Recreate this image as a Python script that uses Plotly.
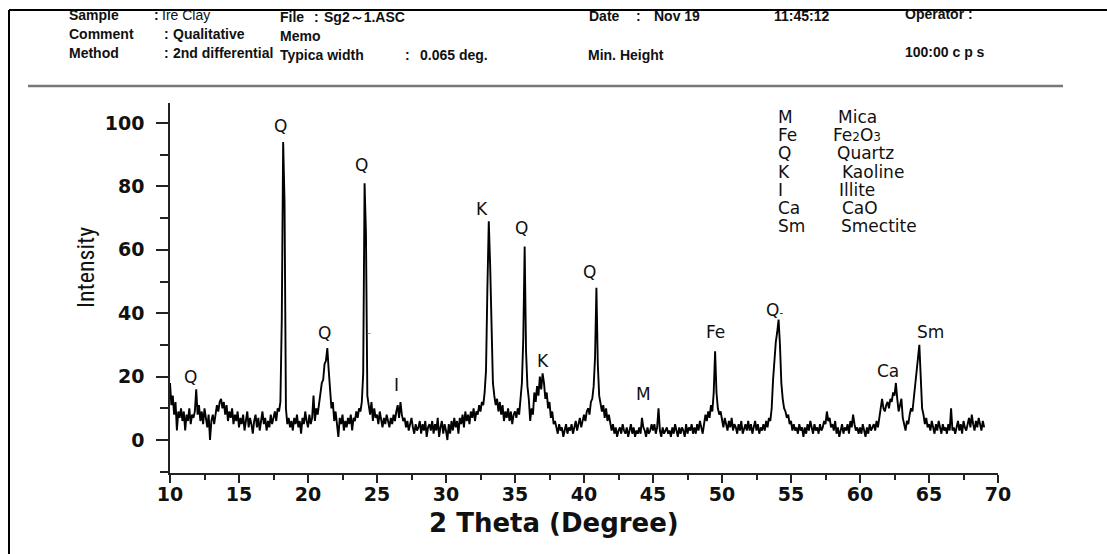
import numpy as np
import plotly.graph_objects as go

# ---------------- data ----------------
theta_start = 10.0
theta_step = 0.1
intensity = [
    18, 11, 14, 8, 12, 3, 9, 7, 10, 6,      # 10
    9, 3, 8, 6, 10, 5, 8, 7, 9, 16,         # 11
    8, 11, 6, 9, 5, 10, 7, 4, 8, 0,         # 12
    6, 8, 5, 9, 11, 9, 12, 13, 10, 12,      # 13
    8, 11, 6, 9, 7, 10, 5, 8, 6, 9,         # 14
    4, 7, 5, 8, 3, 6, 9, 4, 7, 5,           # 15
    2, 6, 8, 4, 7, 3, 6, 9, 5, 7,           # 16
    3, 6, 4, 8, 5, 7, 9, 6, 10, 9,          # 17
    12, 38, 94, 75, 10, 5, 7, 4, 6, 3,      # 18
    7, 5, 8, 4, 6, 2, 7, 5, 9, 6,           # 19
    4, 8, 5, 7, 14, 6, 10, 8, 12, 15,       # 20
    18, 19, 24, 25, 29, 22, 15, 10, 12, 6,  # 21
    9, 4, 1, 7, 5, 8, 3, 6, 4, 7,           # 22
    5, 8, 3, 7, 6, 9, 7, 10, 9, 12,         # 23
    21, 81, 65, 14, 11, 8, 12, 6, 10, 7,    # 24
    8, 5, 9, 6, 4, 7, 5, 8, 6, 4,           # 25
    7, 5, 8, 6, 9, 11, 7, 12, 8, 6,         # 26
    7, 4, 6, 3, 5, 7, 4, 2, 5, 3,           # 27
    4, 6, 2, 5, 3, 6, 1, 4, 5, 3,           # 28
    6, 2, 5, 3, 7, 1, 4, 6, 2, 5,           # 29
    3, 0, 5, 2, 6, 3, 7, 4, 6, 2,           # 30
    7, 5, 8, 4, 9, 6, 8, 5, 9, 7,           # 31
    10, 6, 9, 8, 11, 9, 12, 11, 15, 22,     # 32
    48, 69, 55, 30, 18, 14, 11, 13, 9, 12,  # 33
    8, 11, 6, 9, 7, 10, 6, 9, 5, 8,         # 34
    9, 7, 10, 8, 12, 18, 32, 61, 28, 17,    # 35
    13, 6, 10, 8, 15, 12, 17, 14, 20, 16,   # 36
    21, 18, 13, 15, 10, 12, 7, 9, 5, 6,     # 37
    4, 2, 5, 3, 4, 1, 3, 5, 2, 4,           # 38
    3, 5, 2, 4, 6, 3, 5, 7, 4, 6,           # 39
    8, 6, 9, 10, 8, 12, 13, 17, 26, 48,     # 40
    24, 14, 12, 9, 11, 7, 10, 6, 8, 5,      # 41
    3, 5, 2, 4, 1, 3, 4, 2, 5, 3,           # 42
    2, 4, 1, 3, 5, 2, 4, 1, 3, 2,           # 43
    4, 2, 7, 4, 3, 1, 4, 2, 3, 5,           # 44
    3, 5, 2, 4, 10, 3, 1, 4, 2, 3,          # 45
    4, 2, 3, 1, 4, 2, 5, 3, 1, 4,           # 46
    2, 4, 3, 1, 5, 2, 4, 3, 5, 2,           # 47
    4, 2, 5, 3, 6, 4, 2, 5, 8, 6,           # 48
    9, 7, 11, 9, 15, 28, 15, 10, 8, 9,      # 49
    6, 4, 7, 5, 3, 6, 4, 7, 3, 5,           # 50
    4, 2, 5, 3, 6, 2, 4, 5, 3, 6,           # 51
    3, 5, 2, 4, 6, 3, 5, 2, 4, 3,           # 52
    5, 3, 6, 4, 7, 6, 10, 19, 26, 31,       # 53
    34, 38, 30, 18, 13, 10, 9, 7, 8, 5,     # 54
    6, 3, 5, 3, 4, 2, 5, 3, 4, 1,           # 55
    4, 2, 5, 3, 6, 4, 2, 5, 3, 4,           # 56
    2, 5, 3, 4, 6, 5, 9, 6, 7, 4,           # 57
    5, 3, 6, 2, 4, 1, 3, 5, 2, 4,           # 58
    3, 5, 2, 6, 4, 8, 5, 3, 4, 2,           # 59
    4, 2, 5, 3, 1, 4, 2, 5, 3, 4,           # 60
    5, 3, 6, 4, 7, 9, 13, 10, 9, 11,        # 61
    12, 10, 13, 12, 15, 14, 18, 13, 9, 11,  # 62
    13, 7, 5, 3, 6, 5, 8, 10, 9, 13,        # 63
    18, 21, 26, 30, 20, 10, 8, 5, 7, 4,     # 64
    5, 3, 6, 4, 2, 5, 3, 6, 4, 2,           # 65
    5, 3, 4, 2, 5, 3, 10, 3, 4, 2,          # 66
    4, 6, 3, 5, 2, 6, 4, 3, 5, 7,           # 67
    4, 8, 5, 3, 6, 4, 7, 5, 3, 6,           # 68
    4,                                      # 69
]
two_theta = np.round(theta_start + theta_step * np.arange(len(intensity)), 2)

peak_labels = ["Q", "Q", "Q", "Q", "I", "K", "Q", "K", "Q", "M", "Fe",
               "Q<span style='font-size:10px'>-</span>", "Ca", "Sm"]
peak_x = [11.5, 18.0, 21.2, 23.9, 26.4, 32.6, 35.5, 37.0, 40.4, 44.3, 49.5, 53.8, 62.0, 65.1]
peak_y = [19.9, 99.0, 33.8, 86.8, 17.4, 73.0, 67.0, 25.0, 53.0, 14.5, 34.0, 41.0, 21.8, 34.0]

phase_codes = ["M", "Fe", "Q", "K", "I", "Ca", "Sm"]
phase_names = ["Mica", "Fe<span style='font-size:12px'>2</span>O<span style='font-size:12px'>3</span>",
               "Quartz", "Kaoline", "Illite", "CaO", "Smectite"]

x_ticks = [10, 15, 20, 25, 30, 35, 40, 45, 50, 55, 60, 65, 70]
y_ticks = [0, 20, 40, 60, 80, 100]

# ---------------- layout geometry (window pixels) ----------------
WIN_W, WIN_H = 1107, 554
L, R, T, B = 170, 998, 103, 473
PW, PH = R - L, B - T


def px(x):
    return (x - L) / PW


def py(y):
    return (B - y) / PH


FONT = "DejaVu Sans, Liberation Sans, Arial, sans-serif"
HFONT = "Liberation Sans, Arial, sans-serif"

fig = go.Figure()
fig.add_trace(go.Scatter(
    x=two_theta, y=intensity, mode="lines",
    line=dict(color="black", width=1.9), showlegend=False, hoverinfo="skip",
))

annotations = []
for t, xx, yy in zip(peak_labels, peak_x, peak_y):
    annotations.append(dict(x=xx, y=yy, xref="x", yref="y", text=t, showarrow=False,
                            font=dict(family=FONT, size=17, color="#111"),
                            xanchor="center", yanchor="middle"))
annotations.append(dict(x=24.4, y=34.0, xref="x", yref="y", text="-", showarrow=False,
                        font=dict(family=FONT, size=11, color="#888"),
                        xanchor="center", yanchor="middle"))

# phase key
key_rows = [117, 135, 153, 172, 190, 208, 226]
key_col2 = [836, 831, 835, 840, 837, 840, 839]
for code, name, ry, cx in zip(phase_codes, phase_names, key_rows, key_col2):
    annotations.append(dict(x=px(776), y=py(ry), xref="paper", yref="paper", text=code,
                            showarrow=False, xanchor="left", yanchor="middle",
                            font=dict(family=FONT, size=17, color="#111")))
    annotations.append(dict(x=px(cx), y=py(ry), xref="paper", yref="paper", text=name,
                            showarrow=False, xanchor="left", yanchor="middle",
                            font=dict(family=FONT, size=17, color="#111")))

# header
header = [
    ("<b>Sample</b>", 67, 15), ("<b>:</b>", 152, 15), ("Ire Clay", 160, 15),
    ("<b>Comment</b>", 67, 34), ("<b>:</b>", 162, 34), ("<b>Qualitative</b>", 171, 34),
    ("<b>Method</b>", 67, 53), ("<b>:</b>", 162, 53), ("<b>2nd differential</b>", 171, 53),
    ("<b>File</b>", 278, 17), ("<b>:</b>", 312, 17), ("<b>Sg2～1.ASC</b>", 322, 17),
    ("<b>Memo</b>", 278, 36),
    ("<b>Typica width</b>", 278, 55), ("<b>:</b>", 403, 55), ("<b>0.065 deg.</b>", 418, 55),
    ("<b>Date</b>", 587, 16), ("<b>:</b>", 634, 16), ("<b>Nov 19</b>", 652, 16), ("<b>11:45:12</b>", 772, 16),
    ("<b>Min. Height</b>", 586, 55),
    ("<b>Operator :</b>", 903, 14),
    ("<b>100:00 c p s</b>", 903, 52),
]
for t, hx, hy in header:
    annotations.append(dict(x=px(hx), y=py(hy), xref="paper", yref="paper", text=t,
                            showarrow=False, xanchor="left", yanchor="middle",
                            font=dict(family=HFONT, size=14, color="#111")))

# axis titles
annotations.append(dict(x=px(86), y=py(268), xref="paper", yref="paper", text="Intensity",
                        showarrow=False, textangle=-90, xanchor="center", yanchor="middle",
                        font=dict(family="Liberation Sans Narrow, Roboto Condensed, Liberation Sans, Arial",
                                  size=24, color="#111")))
annotations.append(dict(x=px(554), y=py(523), xref="paper", yref="paper",
                        text="<b>2 Theta (Degree)</b>", showarrow=False,
                        xanchor="center", yanchor="middle",
                        font=dict(family=FONT, size=26, color="#111")))

shapes = [
    dict(type="line", xref="paper", yref="paper", x0=px(9), x1=px(1107), y0=py(10), y1=py(10),
         line=dict(color="black", width=2)),
    dict(type="line", xref="paper", yref="paper", x0=px(9), x1=px(9), y0=py(10), y1=py(554),
         line=dict(color="black", width=2)),
    dict(type="line", xref="paper", yref="paper", x0=px(28), x1=px(1063), y0=py(86), y1=py(86),
         line=dict(color="#777", width=2.5)),
]

fig.update_layout(
    width=WIN_W, height=WIN_H,
    margin=dict(l=L, r=WIN_W - R, t=T, b=WIN_H - B, pad=0),
    paper_bgcolor="white", plot_bgcolor="white",
    annotations=annotations, shapes=shapes, showlegend=False,
)
fig.update_xaxes(
    range=[10, 70], tickvals=x_ticks, ticktext=[str(v) for v in x_ticks],
    showline=True, linecolor="#222", linewidth=1.5, showgrid=False, zeroline=False,
    ticks="outside", ticklen=8, tickwidth=1.5, tickcolor="#222",
    ticklabelstandoff=-5,
    tickfont=dict(family=FONT, size=19, color="#111", weight="bold"),
    minor=dict(dtick=2.5, tick0=10, ticks="outside", ticklen=5, tickwidth=1.5, tickcolor="#222",
               showgrid=False),
)
fig.update_yaxes(
    range=[-10.4, 106.3], tickvals=y_ticks, ticktext=[str(v) for v in y_ticks],
    showline=True, linecolor="#222", linewidth=1.5, showgrid=False, zeroline=False,
    ticks="outside", ticklen=12, tickwidth=1.5, tickcolor="#222",
    ticklabelstandoff=8,
    tickfont=dict(family=FONT, size=19, color="#111", weight="bold"),
    minor=dict(dtick=10, tick0=0, ticks="outside", ticklen=8, tickwidth=1.5, tickcolor="#222",
               showgrid=False),
)

fig.write_html("out.html", config={"displayModeBar": False},
               post_script="document.body.style.margin='0px';document.body.style.overflow='hidden';")
